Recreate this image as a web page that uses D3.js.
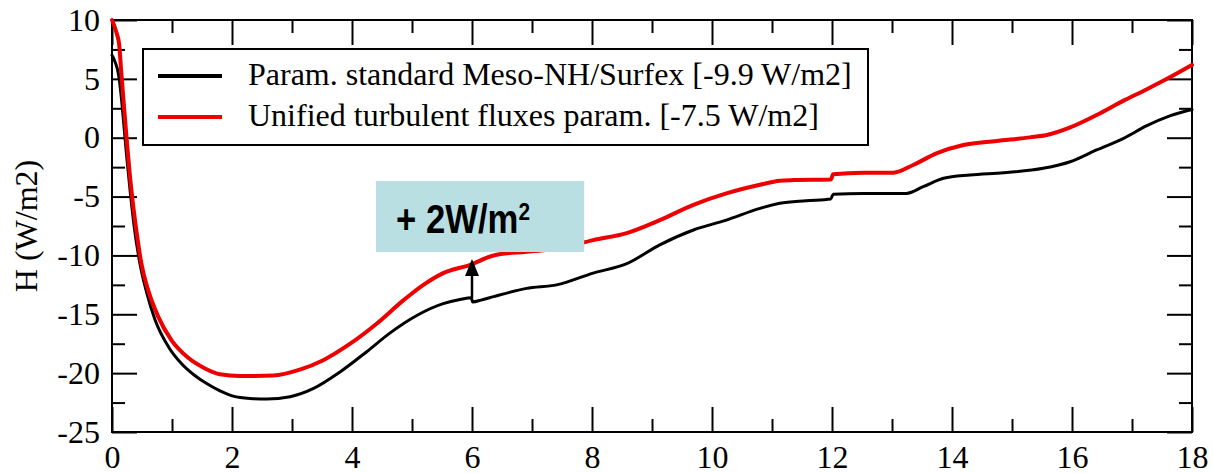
<!DOCTYPE html>
<html><head><meta charset="utf-8">
<script src="https://cdn.jsdelivr.net/npm/d3@7"></script>
<style>body{margin:0;background:#fff}svg{display:block}</style>
</head><body>
<svg id="chart" width="1213" height="473"></svg>
<script>
// ---- data ----
const xMajorTicks = [0, 2, 4, 6, 8, 10, 12, 14, 16, 18];
const xMinorTicks = [1, 3, 5, 7, 9, 11, 13, 15, 17];
const yMajorTicks = [10, 5, 0, -5, -10, -15, -20, -25];
const yMinorTicks = [7.5, 2.5, -2.5, -7.5, -12.5, -17.5, -22.5];
const seriesNames = ["Param. standard Meso-NH/Surfex [-9.9 W/m2]", "Unified turbulent fluxes param. [-7.5 W/m2]"];
const seriesColors = ["#000000", "#ee0000"];
const yTitle = "H (W/m2)";
const annotationText = "+ 2W/m";
const annotationSup = "2";

const standardX = [0, 0.05, 0.105, 0.16, 0.2, 0.245, 0.3, 0.37, 0.455, 0.58, 0.72, 0.94, 1.16, 1.38, 1.55, 1.8, 2.02, 2.3, 2.58, 2.97, 3.36, 3.8, 4.24, 4.63, 5.08, 5.52, 5.8, 5.99, 6.01, 6.15, 6.36, 6.91, 7.41, 8.02, 8.58, 9.13, 9.69, 10.24, 10.8, 11.13, 11.57, 11.98, 12.02, 12.52, 13.24, 13.52, 13.86, 14.3, 14.86, 15.52, 15.97, 16.41, 16.86, 17.24, 17.63, 18];
const standardY = [7.0, 6.46, 5.47, 3.2, 0.94, -1.6, -4.4, -7.56, -10.4, -13.2, -15.5, -17.75, -19.2, -20.2, -20.8, -21.5, -21.95, -22.15, -22.2, -22.0, -21.3, -19.9, -18.2, -16.6, -15.1, -14.1, -13.75, -13.6, -13.95, -13.8, -13.5, -12.8, -12.5, -11.5, -10.7, -9.1, -7.84, -7.0, -6.0, -5.57, -5.35, -5.2, -4.8, -4.73, -4.73, -4.16, -3.45, -3.17, -2.97, -2.6, -2.04, -1.04, -0.05, 1.0, 1.85, 2.4];

const unifiedX = [0, 0.078, 0.117, 0.16, 0.205, 0.25, 0.3, 0.355, 0.42, 0.49, 0.6, 0.77, 0.99, 1.27, 1.55, 1.8, 2.13, 2.69, 3.13, 3.52, 3.97, 4.41, 4.86, 5.19, 5.52, 5.97, 6.36, 6.91, 7.47, 8.02, 8.58, 9.13, 9.69, 10.24, 10.8, 11.13, 11.36, 11.98, 12.02, 12.52, 13.02, 13.36, 13.74, 14.19, 14.74, 15.3, 15.58, 15.97, 16.41, 16.86, 17.24, 17.63, 18];
const unifiedY = [10.0, 8.87, 8.0, 5.2, 2.35, -0.47, -3.3, -5.86, -8.4, -10.7, -12.9, -15.2, -17.2, -18.7, -19.6, -20.1, -20.25, -20.2, -19.7, -18.9, -17.5, -15.8, -13.8, -12.5, -11.5, -10.8, -10.0, -9.68, -9.4, -8.7, -8.1, -7.0, -5.7, -4.73, -4.0, -3.65, -3.6, -3.55, -3.1, -2.97, -2.97, -2.3, -1.33, -0.62, -0.28, 0.03, 0.23, 0.88, 1.93, 3.15, 4.1, 5.13, 6.18];

// annotation (data coordinates)
const noteBox = {x0: 4.4, x1: 7.87, y0: -3.68, y1: -9.71};
const arrow = {x: 6, from: -13.6, head: -11.75, tip: -10.3};

// ---- layout ----
const svg = d3.select("#chart");
const L = 112, R = 1192, T = 20, B = 432;
const x = d3.scaleLinear().domain([0, 18]).range([L, R]);
const y = d3.scaleLinear().domain([-25, 10]).range([B, T]);
const serif = "'Liberation Serif','Times New Roman',Times,serif";
const sans = "'Liberation Sans',Arial,Helvetica,sans-serif";

function styleAxis(g) {
  g.select(".domain").remove();
  g.selectAll(".tick line").attr("stroke", "#000").attr("stroke-width", 2);
  g.selectAll(".tick text").attr("font-family", serif).attr("font-size", 32).attr("fill", "#000");
}
const fmt = d => String(d);

// bottom
svg.append("g").attr("transform", `translate(0,${B})`)
  .call(d3.axisBottom(x).tickValues(xMajorTicks).tickSize(-25).tickPadding(13).tickFormat(fmt)).call(styleAxis);
svg.append("g").attr("transform", `translate(0,${B})`)
  .call(d3.axisBottom(x).tickValues(xMinorTicks).tickSize(-13).tickFormat("")).call(styleAxis);
// top
svg.append("g").attr("transform", `translate(0,${T})`)
  .call(d3.axisTop(x).tickValues(xMajorTicks).tickSize(-25).tickFormat("")).call(styleAxis);
svg.append("g").attr("transform", `translate(0,${T})`)
  .call(d3.axisTop(x).tickValues(xMinorTicks).tickSize(-13).tickFormat("")).call(styleAxis);
// left
svg.append("g").attr("transform", `translate(${L},0)`)
  .call(d3.axisLeft(y).tickValues(yMajorTicks).tickSize(-25).tickPadding(12).tickFormat(fmt)).call(styleAxis);
svg.append("g").attr("transform", `translate(${L},0)`)
  .call(d3.axisLeft(y).tickValues(yMinorTicks).tickSize(-13).tickFormat("")).call(styleAxis);
// right
svg.append("g").attr("transform", `translate(${R},0)`)
  .call(d3.axisRight(y).tickValues(yMajorTicks).tickSize(-25).tickFormat("")).call(styleAxis);
svg.append("g").attr("transform", `translate(${R},0)`)
  .call(d3.axisRight(y).tickValues(yMinorTicks).tickSize(-13).tickFormat("")).call(styleAxis);

// frame
svg.append("rect").attr("x", L).attr("y", T).attr("width", R - L).attr("height", B - T)
  .attr("fill", "none").attr("stroke", "#000").attr("stroke-width", 2);

// y title
svg.append("text").attr("transform", `translate(37,${(T + B) / 2}) rotate(-90)`)
  .attr("text-anchor", "middle").attr("font-family", serif).attr("font-size", 32).text(yTitle);

// curves
const line = d3.line().x(d => x(d[0])).y(d => y(d[1])).curve(d3.curveMonotoneX);
const series = [
  {pts: d3.zip(standardX, standardY), color: seriesColors[0], w: 3},
  {pts: d3.zip(unifiedX, unifiedY), color: seriesColors[1], w: 4}
];
svg.append("g").selectAll("path").data(series).join("path")
  .attr("d", d => line(d.pts)).attr("fill", "none")
  .attr("stroke", d => d.color).attr("stroke-width", d => d.w)
  .attr("stroke-linejoin", "round").attr("stroke-linecap", "round");

// legend
const lg = svg.append("g");
lg.append("rect").attr("x", 143).attr("y", 49).attr("width", 725).attr("height", 96)
  .attr("fill", "#fff").attr("stroke", "#000").attr("stroke-width", 2);
seriesNames.forEach((name, i) => {
  const yy = 76 + i * 41;
  lg.append("line").attr("x1", 158).attr("x2", 222).attr("y1", yy).attr("y2", yy)
    .attr("stroke", seriesColors[i]).attr("stroke-width", 4);
  lg.append("text").attr("x", 248).attr("y", yy + 9).attr("font-family", serif)
    .attr("font-size", 32).attr("fill", "#000").text(name);
});

// annotation box
svg.append("rect").attr("x", x(noteBox.x0)).attr("y", y(noteBox.y0))
  .attr("width", x(noteBox.x1) - x(noteBox.x0)).attr("height", y(noteBox.y1) - y(noteBox.y0))
  .attr("fill", "#b9dfe3");
const note = svg.append("text").attr("x", x(noteBox.x0) + 20).attr("y", y(noteBox.y0) + 52)
  .attr("font-family", sans).attr("font-weight", "bold").attr("font-size", 40)
  .attr("textLength", 134).attr("lengthAdjust", "spacingAndGlyphs").attr("fill", "#000");
note.append("tspan").text(annotationText);
note.append("tspan").attr("font-size", 24).attr("dy", -13).text(annotationSup);

// arrow
const ax = x(arrow.x);
svg.append("line").attr("x1", ax).attr("x2", ax).attr("y1", y(arrow.from)).attr("y2", y(arrow.head))
  .attr("stroke", "#000").attr("stroke-width", 2.5);
svg.append("path")
  .attr("d", `M${ax},${y(arrow.tip)}L${ax - 7},${y(arrow.head)}L${ax + 7},${y(arrow.head)}Z`)
  .attr("fill", "#000");
</script>
</body></html>
